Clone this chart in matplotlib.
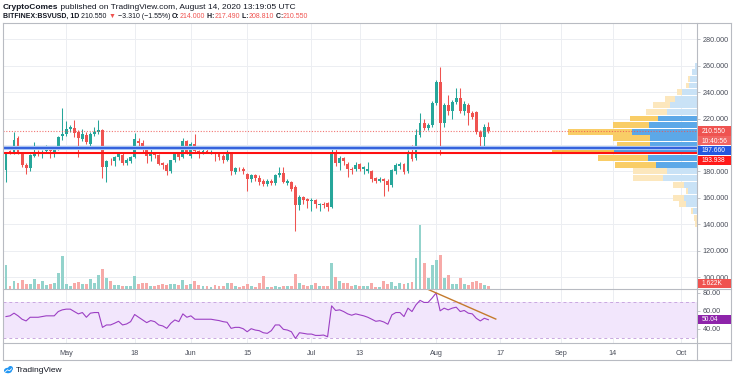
import numpy as np
import pandas as pd
import matplotlib
matplotlib.use("Agg")
import matplotlib.pyplot as plt
import matplotlib.dates as mdates
from matplotlib.patches import Rectangle, Ellipse

plt.rcParams['font.family'] = ['Liberation Sans', 'DejaVu Sans']

# ---------------- data ----------------
start_date = "2020-04-16"
opens = [181, 195.5, 195, 205.5, 194, 185, 182.5, 192, 194.5, 193, 195.5, 198, 195, 197, 206.5, 208.5, 212, 213, 210, 204.5,
         207.5, 201, 208, 209.5, 211, 183.5, 188, 188, 191, 192.5, 186, 187.5, 191, 203, 201.5, 198, 192, 194, 192.5, 186,
         185, 180.5, 188.5, 193, 191, 203, 192, 200.5, 195.5, 194.5, 195.5, 194.5, 194, 193, 191.5, 189, 193.5, 179.5, 182, 182,
         178, 174, 177, 175, 172.5, 170.5, 172.5, 171.5, 177, 179, 171.5, 172, 168, 154.5, 160.5, 159, 157.5, 158.5, 154.5, 155.5,
         156, 153, 194.5, 186.5, 190, 185.5, 182, 181.5, 185.5, 181.5, 180, 180.5, 175, 173, 174.5, 173, 169.5, 180.5, 184, 185.5,
         180, 195, 190, 207.5, 216.5, 213, 215.5, 232, 247.5, 216.5, 230.5, 225.5, 232.5, 235.5, 225.5, 230.5, 224, 225, 210, 206,
         214]
highs = [195, 196, 209.5, 206.5, 195, 186, 193, 202, 196, 196.5, 200, 199, 197, 207, 228, 218, 215, 219, 211, 212,
         210, 210, 214, 219, 212, 189, 190, 192, 195, 194, 190, 192, 209, 205, 204, 199, 198, 195, 193, 187,
         186, 189, 194, 194, 205, 204, 202, 208, 196, 197, 198, 196, 195, 194, 193, 196, 194, 183, 183, 183,
         179, 178, 178, 177, 174, 174, 174, 178, 183, 183, 174, 173, 170, 162, 161, 160, 160, 159, 156, 157,
         157, 199, 198, 192, 191, 187, 183, 187, 186, 184, 187, 181, 176, 176, 175, 174, 182, 186, 187, 186,
         196, 200, 212, 224, 220, 217, 233, 249, 259, 232, 238, 234, 243, 243, 233, 232, 226, 226, 211, 216,
         217.49]
lows = [172, 193, 193, 193, 183, 178, 180, 191, 192, 190, 194, 190, 191, 196, 204, 207, 210, 206, 191, 203,
        201, 197.5, 207, 208, 175, 172, 185, 184, 189, 185, 185, 186, 190, 199, 195, 186, 188, 190, 185, 182,
        177, 179, 187, 189, 190, 193, 190, 194, 190, 193, 194, 193, 188, 189, 186, 188, 177, 178, 180, 178,
        165, 172, 173, 170, 169, 169, 170, 170, 176, 171, 170, 165, 135, 151, 155, 152, 150, 152, 150, 152,
        150, 152, 184, 181, 185, 176, 178, 180, 180, 178, 179, 172, 171, 172, 161, 165, 168, 178, 182, 178,
        179, 188, 189, 206, 211, 211, 214, 230, 192.5, 214, 223, 220, 231, 224, 223, 215, 220, 208, 198.5, 198.5,
        208.81]
closes = [194.5, 194, 204, 194.5, 184.5, 182.5, 192.5, 194.5, 194, 194, 198, 195.5, 196, 206, 208.5, 212, 213.5, 209, 205, 208,
          202.5, 208, 209.5, 211, 183.5, 188, 187.5, 191, 194, 186, 189, 191, 204.5, 201.5, 196.5, 192, 194, 192.5, 185.5, 184.5,
          180, 188.5, 193, 191, 203, 194, 200.5, 195.5, 194.5, 195.5, 195, 195, 193, 191, 188.5, 193, 180, 182.5, 181.5, 180,
          174.5, 177, 175, 172, 170.5, 172.5, 171, 177, 179, 172, 172.5, 167, 154.5, 160.5, 158.5, 157.5, 158.5, 155, 155.5, 154.5,
          153, 194, 186, 190.5, 187.5, 181.5, 181, 185, 181.5, 183, 181.5, 174.5, 173, 174.5, 172.5, 170, 181, 185, 185.5, 179.5,
          195, 189.5, 207.5, 216.5, 213, 215.5, 232, 248, 216.5, 230.5, 225.5, 232.5, 235.5, 225.5, 231, 224, 221.5, 210, 206, 214,
          210.55]
volumes_k = [16.2, 1.6, 5.1, 3.9, 5.6, 2.8, 3.2, 6.3, 2.8, 5.1, 2.3, 2.8, 3.9, 10.4, 22.5, 2.8, 1.6, 3.9, 4.4, 3.2,
             2.8, 6.3, 3.9, 9.7, 13.7, 7.4, 5.1, 2.3, 2.3, 1.6, 1.4, 1.6, 8.6, 2.8, 3.5, 3.9, 1.6, 1.6, 2.3, 2.8,
             2.3, 2.8, 2.8, 2.3, 5.8, 2.3, 2.8, 5.1, 2.3, 1.4, 1.4, 0.9, 2.3, 1.6, 1.6, 3.5, 3.5, 1.6, 0.9, 1.6,
             3.2, 1.6, 0.9, 3.9, 8.6, 0.9, 0.9, 1.6, 0.9, 1.6, 1.6, 1.6, 10.2, 3.5, 2.3, 1.6, 2.1, 3.5, 1.6, 1.6,
             1.6, 17.4, 7.9, 5.1, 3.5, 3.5, 1.6, 2.1, 1.6, 1.6, 1.6, 3.5, 1.2, 0.9, 5.1, 2.8, 4.4, 1.6, 3.9, 2.8,
             3.5, 4.4, 20.9, 43.8, 17.4, 7.0, 16.0, 19.7, 23.2, 7.4, 9.7, 2.8, 2.8, 7.4, 2.8, 2.3, 4.6, 5.1, 3.5, 2.3,
             1.622]
rsi = [53.6, 54.4, 57.4, 54.4, 50.6, 48.7, 52.8, 52.8, 52.8, 53.6, 54.4, 54.4, 54.4, 59.2, 61.1, 61.9, 61.9, 59.2, 56.6, 58.1,
       52.8, 57.4, 58.1, 58.1, 41.5, 44.2, 44.2, 46.1, 48.3, 44.2, 45.3, 47.9, 55.9, 52.8, 49.8, 46.8, 49.1, 47.9, 44.2, 43.1,
       40.4, 46.1, 49.8, 47.9, 56.6, 52.8, 54.4, 50.6, 50.6, 50.6, 50.6, 50.6, 49.8, 49.1, 47.9, 47.2, 40.4, 41.5, 41.5, 40.0,
       36.6, 40.0, 38.5, 37.8, 35.5, 34.8, 37.8, 44.2, 44.2, 39.3, 38.5, 36.6, 29.1, 35.5, 34.8, 34.0, 34.0, 32.5, 32.5, 32.9,
       31.0, 65.6, 60.4, 61.1, 59.2, 56.6, 55.1, 56.6, 55.5, 54.4, 52.8, 50.6, 48.3, 49.0, 47.5, 45.0, 55.5, 58.1, 58.1, 53.6,
       63.0, 59.2, 66.8, 71.7, 69.4, 69.4, 74.3, 80.0, 60.0, 63.0, 61.1, 63.0, 64.1, 59.2, 60.4, 57.4, 56.6, 51.6, 48.7, 51.7,
       50.04]

# volume profile (visible range), rows of 5 price units
vp_row_low = [137.5, 142.5, 147.5, 152.5, 157.5, 162.5, 167.5, 172.5, 177.5, 182.5, 187.5, 192.5, 197.5,
              202.5, 207.5, 212.5, 217.5, 222.5, 227.5, 232.5, 237.5, 242.5, 247.5, 252.5, 257.5]
vp_up = [0, 0, 4, 11, 13, 9, 13, 34, 30, 41, 49, 83, 47, 47, 65, 48, 39, 30, 27, 22, 15, 8, 7, 5, 2]
vp_down = [2, 3, 2, 7, 11, 2, 11, 30, 34, 41, 50, 62, 33, 37, 64, 36, 28, 21, 17, 10, 5, 3, 2, 0, 0]
value_area = (182.5, 222.5)
poc_row = 192.5

level_blue = 197.66
level_red = 193.938
last_price = 210.55
countdown = "10:40:56"

trend_dates = ["2020-07-30", "2020-08-16"]
trend_rsi = [84.0, 50.5]

price_ticks = [100, 120, 140, 160, 180, 200, 220, 240, 260, 280]
hidden_price_labels = [200]          # covered by the price tags in the reference
rsi_ticks = [40, 60, 80]
rsi_band = (30, 70)
time_ticks = ["2020-05-01", "2020-05-18", "2020-06-01", "2020-06-15", "2020-07-01", "2020-07-13",
              "2020-08-01", "2020-08-17", "2020-09-01", "2020-09-14", "2020-10-01"]
time_labels = ["May", "18", "Jun", "15", "Jul", "13", "Aug", "17", "Sep", "14", "Oct"]

# ---------------- styling ----------------
W, H = 736, 380
TEAL = "#26a69a"
RED = "#ef5350"
GRID = "#eceef2"
FRAME = "#b8bbc2"
TXT = "#4a4e5a"

fig = plt.figure(figsize=(W / 100, H / 100), dpi=100)


def box(l, t, r, b):
    return [l / W, 1 - b / H, (r - l) / W, (b - t) / H]


L, R = 3.3, 697.0
TOP, MAIN_B, RSI_B = 23.0, 288.5, 343.0

ax = fig.add_axes(box(L, TOP, R, MAIN_B))
ra = fig.add_axes(box(L, MAIN_B, R, RSI_B), sharex=ax)

dates = pd.date_range(start_date, periods=len(opens), freq="D")
x = mdates.date2num(dates)
x0 = x[0]
ax.set_xlim(x0 - 0.67, x0 + 171.9)
ax.set_ylim(91.3, 292.4)
ra.set_ylim(24.0, 85.0)

for a in (ax, ra):
    for s in a.spines.values():
        s.set_visible(False)
    a.set_facecolor("white")

# grid
tt = mdates.date2num(pd.to_datetime(time_ticks))
for t in tt:
    ax.axvline(t, color=GRID, lw=0.7, zorder=0)
    ra.axvline(t, color=GRID, lw=0.7, zorder=0)
for p in price_ticks:
    ax.axhline(p, color=GRID, lw=0.7, zorder=0)

# candles
o = np.array(opens); c = np.array(closes); h = np.array(highs); lo = np.array(lows)
up = c >= o
cols = np.where(up, TEAL, RED)
ax.vlines(x, lo, h, colors=cols, lw=0.75, zorder=3)
ax.bar(x, np.maximum(np.abs(c - o), 0.45), bottom=np.minimum(o, c), width=0.72,
       color=cols, linewidth=0, zorder=4)

# volume (overlay at bottom of main pane)
va = ax.twinx()
va.patch.set_visible(False)
for s in va.spines.values():
    s.set_visible(False)
va.set_yticks([])
va.set_ylim(0, max(volumes_k) / 0.238)
vcols = np.where(up, "#93d3cc", "#f7aaa8")
va.bar(x, volumes_k, width=0.72, color=vcols, linewidth=0, zorder=2)

# volume profile (right side, grows leftwards)
pa = ax.twiny()
pa.patch.set_visible(False)
for s in pa.spines.values():
    s.set_visible(False)
pa.set_xticks([])
tot = np.array(vp_up) + np.array(vp_down)
pa.set_xlim(tot.max() / 0.209, 0)
rows = np.array(vp_row_low)
inva = (rows >= value_area[0]) & (rows < value_area[1])
blue_c = np.where(inva, "#5ca8e8", "#c9e2f6")
orng_c = np.where(inva, "#f9cd66", "#fce7bd")
blue_c = np.where(rows == poc_row, "#4d9ae3", blue_c)
orng_c = np.where(rows == poc_row, "#f7be45", orng_c)
pa.barh(rows + 2.5, vp_up, left=0, height=4.4, color=blue_c, linewidth=0, zorder=2)
pa.barh(rows + 2.5, vp_down, left=vp_up, height=4.4, color=orng_c, linewidth=0, zorder=2)

# horizontal levels
pa.axhline(last_price, color=RED, lw=0.8, ls=(0, (1, 1.5)), alpha=0.8, zorder=3)
pa.axhline(level_blue, color="#a9c4f5", lw=3.0, zorder=3)
pa.axhline(level_blue, color="#1f4fd8", lw=1.2, zorder=4)
pa.axhline(level_red, color="#ff1010", lw=1.5, zorder=4)

# price axis ticks
ax.yaxis.tick_right()
ax.set_yticks(price_ticks)
ax.set_yticklabels(["" if p in hidden_price_labels else f"{p:.3f}" for p in price_ticks])
ax.tick_params(axis="y", direction="out", length=2.5, width=0.6, color=FRAME, pad=1.5,
               labelsize=5.2, labelcolor=TXT)
ax.tick_params(axis="x", bottom=False, labelbottom=False)

# RSI pane
ra.axhspan(rsi_band[0], rsi_band[1], color="#f2e6fc", lw=0, zorder=0)
for lv in rsi_band:
    ra.axhline(lv, color="#c9a8e0", lw=0.7, ls=(0, (3, 3)), zorder=1)
ra.plot(x, rsi, color="#9c3fc4", lw=0.8, zorder=3)
td = mdates.date2num(pd.to_datetime(trend_dates))
ra.plot(td, trend_rsi, color="#c47a2c", lw=1.0, zorder=4, solid_capstyle="butt")
ra.yaxis.tick_right()
ra.set_yticks(rsi_ticks)
ra.set_yticklabels([f"{v:.2f}" for v in rsi_ticks])
ra.tick_params(axis="y", direction="out", length=2.5, width=0.6, color=FRAME, pad=1.5,
               labelsize=5.2, labelcolor=TXT)
ra.set_xticks(tt)
ra.set_xticklabels(time_labels)
ra.tick_params(axis="x", length=0, pad=5, labelsize=5.2, labelcolor=TXT)

# overlay in pixel coordinates
ov = fig.add_axes([0, 0, 1, 1], zorder=10)
ov.set_xlim(0, W)
ov.set_ylim(H, 0)
ov.axis("off")


def ypx(a, v):
    return H - a.transData.transform((0, v))[1]


# frame lines
fl = dict(color=FRAME, lw=0.8)
ov.plot([L, 731], [TOP, TOP], **fl)
ov.plot([L, L], [TOP, 360], **fl)
ov.plot([731, 731], [TOP, 360], **fl)
ov.plot([L, 731], [360, 360], **fl)
ov.plot([R, R], [TOP, 360], **fl)
ov.plot([L, 731], [MAIN_B, MAIN_B], **fl)
ov.plot([L, 731], [RSI_B, RSI_B], **fl)


def tag(yc, text, color):
    ov.add_patch(Rectangle((R + 0.5, yc - 4.6), 33, 9.2, color=color, lw=0, zorder=5))
    ov.text(R + 5, yc + 0.2, text, color="white", fontsize=4.8, va="center", ha="left", zorder=6)


STEP = 9.8
y1 = ypx(ax, last_price)
y2 = y1 + STEP
y3 = max(ypx(ax, level_blue), y2 + STEP)
y4 = max(ypx(ax, level_red), y3 + STEP)
tag(y1, f"{last_price:.3f}", RED)
tag(y2, countdown, "#f06461")
tag(y3, f"{level_blue:.3f}", "#2457e0")
tag(y4, f"{level_red:.3f}", "#ff1a1a")
tag(min(ypx(va, volumes_k[-1]), MAIN_B - 4.8), f"{volumes_k[-1]:.3f}K", RED)
tag(ypx(ra, rsi[-1]), f"{rsi[-1]:.2f}", "#8e24aa")

# header
renderer = fig.canvas.get_renderer()


def seq(xs, y, parts, size):
    for text, color, weight in parts:
        t = ov.text(xs, y, text, color=color, fontsize=size, fontweight=weight, va="center", ha="left")
        xs += t.get_window_extent(renderer).width
    return xs


DARK = "#131722"
seq(3, 7.5, [("CryptoComes", DARK, "bold"),
             (" published on TradingView.com, August 14, 2020 13:19:05 UTC", DARK, "normal")], 6.0)
seq(3, 16.5, [("BITFINEX:BSVUSD, 1D", DARK, "bold"), (" 210.550 ", DARK, "normal"),
              ("▼", RED, "normal"), (" \u22123.310 (\u22121.55%) ", DARK, "normal"),
              ("O:", DARK, "bold"), ("214.000", RED, "normal"),
              (" H:", DARK, "bold"), ("217.490", RED, "normal"),
              (" L:", DARK, "bold"), ("208.810", RED, "normal"),
              (" C:", DARK, "bold"), ("210.550", RED, "normal")], 5.0)

# footer logo
ov.add_patch(Ellipse((8.0, 370.5), 8, 5.5, color="#2196f3", lw=0))
ov.add_patch(Ellipse((10.5, 368.5), 5, 5, color="#2196f3", lw=0))
ov.plot([5.5, 7.5, 9.5, 11.5], [371.5, 369.8, 370.8, 368.8], color="white", lw=0.6)
ov.text(16, 370.5, "TradingView", color=DARK, fontsize=6.0, va="center", ha="left")

fig.savefig("out.png", dpi=100)
